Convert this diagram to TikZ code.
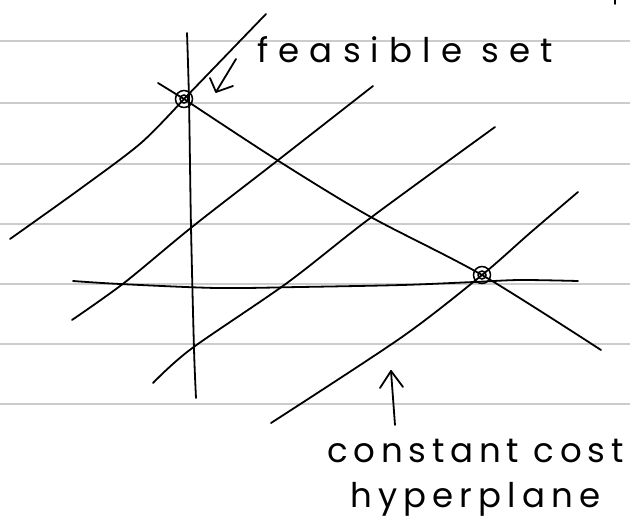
\documentclass[tikz,border=0pt]{standalone}
\usepackage{fontspec}
\newfontfamily\handA[LetterSpace=30]{Poppins}
\newfontfamily\handB[LetterSpace=17]{Poppins}
\newfontfamily\handC[LetterSpace=18]{Poppins}
\begin{document}
\begin{tikzpicture}[x=1pt,y=-1pt,
  ink/.style={line width=1.8pt,black,line cap=round,line join=round},
  rule/.style={line width=1.8pt,black!20},
  vtx/.style={line width=1.5pt,black},
  lbl/.style={anchor=base west,inner sep=0pt,font=\fontsize{34}{34}\selectfont}]
\useasboundingbox (0,0) rectangle (630,527);
% ruled paper
\foreach \yy in {41,103,164,224,284,344,404}
  \draw[rule] (0,\yy) -- (630,\yy);
% vertices
\coordinate (v1) at (184,99);
\coordinate (v2) at (482,275);
% vertical constraint
\draw[ink] plot[smooth] coordinates {(187,33) (189,100) (191,227) (194,349) (196,398)};
% horizontal constraint
\draw[ink] plot[smooth] coordinates {(73,281) (120,284) (217,288) (300,287) (402,285) (474,282) (520,280) (578,281)};
% diagonal constraint through both vertices
\draw[ink] (158,83) -- (v1);
\draw[ink] plot[smooth] coordinates {(184,99) (277,160) (369,216) (482,275) (601,350)};
% constant cost lines
\draw[ink] plot[smooth] coordinates {(10,239) (80,189) (141,143) (184,99)};
\draw[ink] (v1) -- (266,14);
\draw[ink] plot[smooth] coordinates {(373,86) (277,161) (192,227) (124,283) (72,320)};
\draw[ink] plot[smooth] coordinates {(495,127) (369,219) (287,283) (191,349) (153,383)};
\draw[ink] plot[smooth] coordinates {(578,192) (530,233) (482,275) (402,337) (271,423)};
% vertex markers
\foreach \v in {v1,v2}{
  \draw[vtx] (\v) circle (8.5pt);
  \draw[vtx] (\v) circle (4pt);
}
% small mark at top right
\draw[ink] (615,0) -- (615,4);
% labels
\node[lbl] (fs) at (257,63) {\handA feasible set};
\node[lbl] (cc) at (327,462) {\handB constant cost};
\node[lbl] (hp) at (350,507) {\handC hyperplane};
% arrows
\coordinate (a1s) at (236,59);
\coordinate (a1t) at (216,92);
\draw[ink] (a1s) -- (a1t);
\draw[ink] (210,78) -- (a1t) -- (233,86);
\coordinate (a2s) at (395,425);
\coordinate (a2t) at (391,371);
\draw[ink] (a2s) -- (a2t);
\draw[ink] (380,388) -- (a2t) -- (403,387);
\end{tikzpicture}
\end{document}
